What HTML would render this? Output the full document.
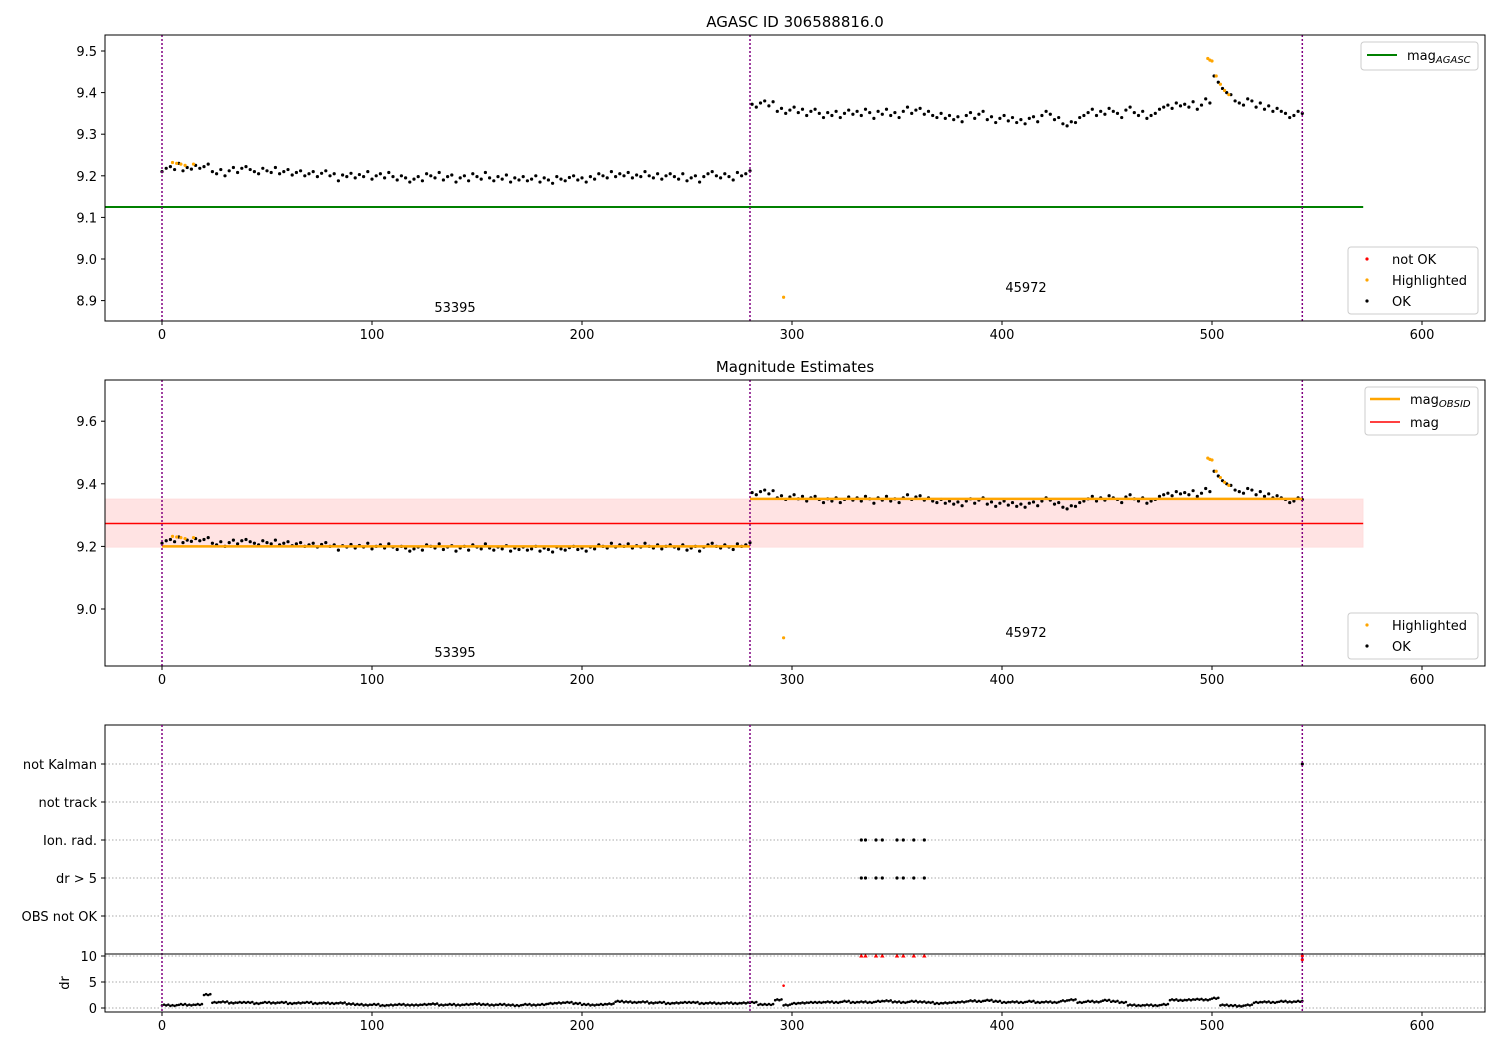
<!DOCTYPE html>
<html><head><meta charset="utf-8"><style>
body{margin:0;background:#fff}
svg{display:block;font-family:"DejaVu Sans","Liberation Sans",sans-serif}
</style></head><body>
<svg id="chart" width="1500" height="1050"></svg>
<script>
const seg1X0=0, seg2X0=281;
const mag1=[9.210,9.218,9.222,9.215,9.230,9.212,9.220,9.216,9.225,9.218,9.222,9.228,9.210,9.205,9.215,9.200,9.212,9.220,9.208,9.218,
9.222,9.215,9.210,9.205,9.218,9.212,9.208,9.220,9.205,9.210,9.215,9.202,9.208,9.212,9.200,9.205,9.210,9.198,9.206,9.212,
9.200,9.205,9.188,9.202,9.198,9.206,9.195,9.203,9.198,9.210,9.192,9.200,9.205,9.195,9.208,9.198,9.190,9.200,9.195,9.185,
9.192,9.198,9.188,9.205,9.200,9.195,9.208,9.190,9.198,9.202,9.185,9.195,9.200,9.188,9.205,9.198,9.192,9.208,9.195,9.188,
9.198,9.192,9.202,9.185,9.195,9.190,9.198,9.188,9.192,9.200,9.185,9.195,9.190,9.182,9.198,9.192,9.188,9.196,9.200,9.190,
9.195,9.185,9.198,9.192,9.205,9.200,9.195,9.210,9.198,9.205,9.200,9.208,9.195,9.202,9.198,9.210,9.200,9.195,9.205,9.192,
9.200,9.205,9.198,9.192,9.205,9.188,9.195,9.200,9.185,9.198,9.205,9.210,9.200,9.195,9.205,9.198,9.190,9.208,9.200,9.205,9.212];
const mag2=[9.372,9.365,9.375,9.380,9.368,9.378,9.355,9.362,9.350,9.358,
9.365,9.352,9.360,9.345,9.355,9.360,9.350,9.340,9.352,9.345,
9.355,9.340,9.350,9.358,9.348,9.355,9.345,9.360,9.352,9.338,
9.355,9.348,9.360,9.345,9.352,9.340,9.355,9.365,9.350,9.358,
9.362,9.348,9.355,9.345,9.340,9.350,9.338,9.345,9.335,9.342,
9.330,9.345,9.352,9.338,9.348,9.355,9.335,9.342,9.328,9.338,
9.345,9.332,9.340,9.328,9.335,9.325,9.338,9.342,9.330,9.345,
9.355,9.348,9.335,9.340,9.325,9.320,9.330,9.328,9.340,9.345,
9.352,9.360,9.345,9.355,9.348,9.362,9.355,9.350,9.340,9.358,
9.365,9.352,9.345,9.355,9.338,9.345,9.350,9.360,9.365,9.370,
9.362,9.375,9.368,9.372,9.365,9.378,9.360,9.370,9.385,9.375,
9.440,9.425,9.410,9.400,9.395,9.380,9.375,9.370,9.385,9.380,
9.365,9.375,9.360,9.368,9.355,9.362,9.355,9.350,9.340,9.345,9.355,9.350];
const hiX=[5,7,9,11,15,296,498,499,500,502,504,506,508];
const hiMag=[9.232,9.230,9.228,9.225,9.228,8.908,9.482,9.478,9.476,9.440,9.420,9.405,9.395];
const drX0=0, drStep=4;
const drVal=[0.5,0.4,0.6,0.5,0.6,2.5,1.0,1.1,0.9,1.0,1.0,0.8,1.0,0.9,1.0,0.8,0.9,1.0,0.8,0.9,
0.8,0.9,0.7,0.6,0.5,0.6,0.4,0.5,0.6,0.5,0.5,0.6,0.7,0.5,0.6,0.5,0.6,0.7,0.6,0.5,
0.6,0.5,0.4,0.6,0.5,0.6,0.8,0.9,1.0,0.8,0.6,0.5,0.6,0.7,1.2,1.1,1.0,1.1,0.9,1.0,
0.8,0.9,1.0,1.0,0.8,0.9,0.8,0.9,0.8,0.9,1.0,0.6,0.6,1.5,0.5,0.8,0.9,1.0,1.0,1.1,
1.0,1.2,1.0,1.1,1.0,1.2,1.3,1.1,1.0,1.2,1.1,1.0,0.8,0.9,1.0,1.1,1.3,1.2,1.4,1.2,
1.0,1.1,1.0,1.2,1.0,1.1,1.0,1.3,1.5,1.0,1.2,1.1,1.4,1.2,1.0,0.5,0.4,0.5,0.4,0.6,
1.5,1.4,1.5,1.6,1.5,1.8,0.5,0.4,0.3,0.5,1.0,1.1,1.0,1.2,1.1,1.2,1.2];
const flagX=[333,335,340,343,350,353,358,363];
const flagDr=[10,10,10,10,10,10,10,10];
const obsBounds=[0,280,543];
const magAgasc=9.125, magObs1=9.20, magObs2=9.352, magMean=9.273, magLo=9.197, magHi=9.352;
const ticks1=[8.9,9.0,9.1,9.2,9.3,9.4,9.5];
const ticks2=[9.0,9.2,9.4,9.6];
const flagLabels=["not Kalman","not track","Ion. rad.","dr > 5","OBS not OK"];
const xTicks=[0,100,200,300,400,500,600];
const obsLabels=["53395","45972"];

const S=document.getElementById('chart'),NS='http://www.w3.org/2000/svg';
function el(t,a,p){const e=document.createElementNS(NS,t);for(const k in a)e.setAttribute(k,a[k]);(p||S).appendChild(e);return e;}
const X=v=>162+v*2.1;
const Y1=v=>259-(v-9.0)*416;
const Y2=v=>609-(v-9.0)*313;
const Yf=i=>764+i*38;
const Yd=v=>1008-v*5.2;

function frame(y0,y1,name){let r=el('rect',{x:105,y:y0,width:1380,height:y1-y0,fill:'none',stroke:'#000','stroke-width':1});}
function xAxis(yb,name){const g=el('g',{});
 xTicks.forEach(t=>{el('line',{x1:X(t),x2:X(t),y1:yb,y2:yb+4,stroke:'#000'},g);const tx=el('text',{x:X(t),y:yb+18,'font-size':13,'text-anchor':'middle'},g);tx.textContent=t;});}
function yTick(y,label,g){el('line',{x1:101,x2:105,y1:y,y2:y,stroke:'#000'},g);const t=el('text',{x:97,y:y+5,'font-size':13,'text-anchor':'end'},g);t.textContent=label;}
function vlines(y0,y1){obsBounds.forEach(b=>{const l=el('line',{x1:X(b),x2:X(b),y1:y0,y2:y1,stroke:'purple','stroke-width':1.5,'stroke-dasharray':'2,2'});});}
function dot(x,y,c,r,g){el('circle',{cx:x,cy:y,r:r||1.6,fill:c},g);}
function allMag(fn){mag1.forEach((m,i)=>fn(seg1X0+2*i,m));mag2.forEach((m,i)=>fn(seg2X0+2*i,m));}
function title(x,y,s,name){const t=el('text',{x:x,y:y,'font-size':15,'text-anchor':'middle'});t.textContent=s;}
function txt(x,y,s,name,g){const t=el('text',{x:x,y:y,'font-size':13,'text-anchor':'middle'},g);t.textContent=s;}

// Panel 1
title(795,27,'AGASC ID 306588816.0','top-title');
const gy1=el('g',{});
ticks1.forEach(t=>yTick(Y1(t),t.toFixed(1),gy1));
const ag=el('line',{x1:105,x2:X(572),y1:Y1(magAgasc),y2:Y1(magAgasc),stroke:'green','stroke-width':2});
const p1=el('g',{});
allMag((x,m)=>dot(X(x),Y1(m),'#000',1.6,p1));
const h1=el('g',{});
hiX.forEach((x,i)=>dot(X(x),Y1(hiMag[i]),'orange',1.6,h1));
vlines(35,321);
txt(455,312,obsLabels[0],'obs-label-53395');txt(1026,292,obsLabels[1],'obs-label-45972');
frame(35,321,'top-plot-area');xAxis(321,'x-axis-top');
let lg=el('g',{});
el('rect',{x:1361,y:42,width:117,height:28,rx:3,fill:'#fff',stroke:'#ccc'},lg);
el('line',{x1:1367,x2:1397,y1:55,y2:55,stroke:'green','stroke-width':2},lg);
let t=el('text',{x:1407,y:60,'font-size':13},lg);t.innerHTML='mag<tspan font-size="10" font-style="italic" dy="3">AGASC</tspan>';
lg=el('g',{});
el('rect',{x:1348,y:247,width:130,height:67,rx:3,fill:'#fff',stroke:'#ccc'},lg);
[['red','not OK',260],['orange','Highlighted',281],['#000','OK',302]].forEach(d=>{dot(1367,d[2]-1,d[0],1.6,lg);const tt=el('text',{x:1392,y:d[2]+4,'font-size':13},lg);tt.textContent=d[1];});

// Panel 2
title(795,372,'Magnitude Estimates','middle-title');
const gy2=el('g',{});
ticks2.forEach(t=>yTick(Y2(t),t.toFixed(1),gy2));
const band=el('rect',{x:105,y:Y2(magHi),width:X(572)-105,height:Y2(magLo)-Y2(magHi),fill:'rgba(255,0,0,0.11)',stroke:'rgba(255,0,0,0.05)'});
const ml=el('line',{x1:105,x2:X(572),y1:Y2(magMean),y2:Y2(magMean),stroke:'red','stroke-width':1.5});
const p2=el('g',{});
allMag((x,m)=>dot(X(x),Y2(m),'#000',1.6,p2));
const o1=el('line',{x1:X(0),x2:X(280),y1:Y2(magObs1),y2:Y2(magObs1),stroke:'orange','stroke-width':2.5});
const o2=el('line',{x1:X(280),x2:X(543),y1:Y2(magObs2),y2:Y2(magObs2),stroke:'orange','stroke-width':2.5});
const h2=el('g',{});
hiX.forEach((x,i)=>dot(X(x),Y2(hiMag[i]),'orange',1.6,h2));
vlines(380,666);
txt(455,657,obsLabels[0],'obs-label-53395-mid');txt(1026,637,obsLabels[1],'obs-label-45972-mid');
frame(380,666,'middle-plot-area');xAxis(666,'x-axis-middle');
lg=el('g',{});
el('rect',{x:1365,y:387,width:113,height:48,rx:3,fill:'#fff',stroke:'#ccc'},lg);
el('line',{x1:1370,x2:1400,y1:399,y2:399,stroke:'orange','stroke-width':2.5},lg);
t=el('text',{x:1410,y:404,'font-size':13},lg);t.innerHTML='mag<tspan font-size="10" font-style="italic" dy="3">OBSID</tspan>';
el('line',{x1:1370,x2:1400,y1:422,y2:422,stroke:'red','stroke-width':1.5},lg);
t=el('text',{x:1410,y:427,'font-size':13},lg);t.textContent='mag';
lg=el('g',{});
el('rect',{x:1348,y:613,width:130,height:46,rx:3,fill:'#fff',stroke:'#ccc'},lg);
[['orange','Highlighted',626],['#000','OK',647]].forEach(d=>{dot(1367,d[2]-1,d[0],1.6,lg);const tt=el('text',{x:1392,y:d[2]+4,'font-size':13},lg);tt.textContent=d[1];});

// Panel 3 flags
const gf=el('g',{});
flagLabels.forEach((f,i)=>{el('line',{x1:105,x2:1485,y1:Yf(i),y2:Yf(i),stroke:'#aaa','stroke-dasharray':'1.5,2'},gf);yTick(Yf(i),f,gf);});
const fp=el('g',{});
flagX.forEach(x=>{dot(X(x),Yf(2),'#000',1.6,fp);dot(X(x),Yf(3),'#000',1.6,fp);});
dot(X(543),Yf(0),'#000',1.6,fp);
frame(725,954,'flags-plot-area');
const gd=el('g',{});
[0,5,10].forEach(v=>{el('line',{x1:105,x2:1485,y1:Yd(v),y2:Yd(v),stroke:'#aaa','stroke-dasharray':'1.5,2'},gd);yTick(Yd(v),v,gd);});
t=el('text',{x:0,y:0,'font-size':13,'text-anchor':'middle',transform:'translate(69,983) rotate(-90)'},gd);t.textContent='dr';
const dp=el('g',{});
drVal.forEach((v,i)=>{const x=drX0+drStep*i;for(let k=0;k<4&&x+k<=543;k++)dot(X(x+k),Yd(v+(k%2?0.15:0)),'#000',1.3,dp);});
const dr2=el('g',{});
flagX.forEach((x,i)=>{const cx=X(x),cy=Yd(flagDr[i]);el('polygon',{points:`${cx},${cy-2.5} ${cx-2.2},${cy+1.5} ${cx+2.2},${cy+1.5}`,fill:'red'},dr2);});
dot(X(296),Yd(4.3),'red',1.3,dr2);dot(X(543),Yd(10),'red',1.6,dr2);dot(X(543),Yd(9.3),'red',1.6,dr2);
vlines(725,1012);
el('rect',{x:105,y:954,width:1380,height:58,fill:'none',stroke:'#000'});
xAxis(1012,'x-axis-bottom');
</script>
</body></html>
